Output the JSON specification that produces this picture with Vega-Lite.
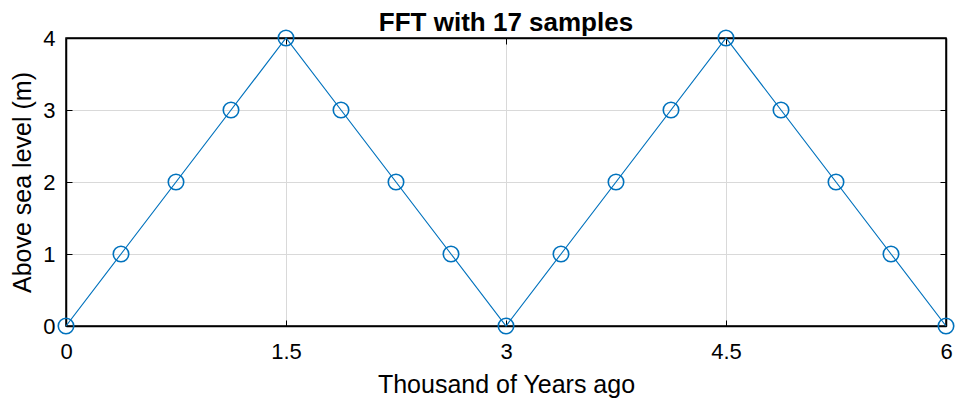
{
  "$schema": "https://vega.github.io/schema/vega-lite/v6.json",
  "width": 880,
  "height": 288,
  "autosize": {"type": "none"},
  "padding": {"left": 66, "top": 38, "right": 19, "bottom": 78},
  "background": "white",
  "title": {"text": "FFT with 17 samples", "font": "Liberation Sans", "fontSize": 26, "fontWeight": "bold", "color": "black", "offset": -9, "anchor": "middle"},
  "config": {
    "view": {"stroke": "black", "strokeWidth": 1.5},
    "axis": {"labelFont": "Liberation Sans", "titleFont": "Liberation Sans", "labelFontSize": 22, "titleFontSize": 25, "titleFontWeight": "normal", "labelColor": "black", "titleColor": "black", "domainColor": "black", "tickColor": "black", "gridColor": "#d9d9d9", "gridWidth": 1}
  },
  "data": {"values": [
    {"x": 0, "y": 0}, {"x": 0.375, "y": 1}, {"x": 0.75, "y": 2}, {"x": 1.125, "y": 3},
    {"x": 1.5, "y": 4}, {"x": 1.875, "y": 3}, {"x": 2.25, "y": 2}, {"x": 2.625, "y": 1},
    {"x": 3, "y": 0}, {"x": 3.375, "y": 1}, {"x": 3.75, "y": 2}, {"x": 4.125, "y": 3},
    {"x": 4.5, "y": 4}, {"x": 4.875, "y": 3}, {"x": 5.25, "y": 2}, {"x": 5.625, "y": 1},
    {"x": 6, "y": 0}
  ]},
  "layer": [
    {"mark": {"type": "line", "color": "#0072BD", "strokeWidth": 1.2},
      "encoding": {
        "x": {"field": "x", "type": "quantitative", "scale": {"domain": [0, 6], "nice": false, "zero": false},
          "axis": {"orient": "bottom", "values": [0, 1.5, 3, 4.5, 6], "format": ".3~g", "title": "Thousand of Years ago", "tickSize": -6, "labelPadding": 21, "titlePadding": 10, "labelFlush": false, "domainWidth": 1.5}},
        "y": {"field": "y", "type": "quantitative", "scale": {"domain": [0, 4], "nice": false},
          "axis": {"orient": "left", "values": [0, 1, 2, 3, 4], "format": "d", "title": "Above sea level (m)", "tickSize": -6, "labelPadding": 17, "titlePadding": 7, "labelFlush": false, "domainWidth": 1.5}}
      }},
    {"mark": {"type": "point", "shape": "circle", "filled": false, "color": "#0072BD", "strokeWidth": 1.6, "size": 240, "opacity": 1},
      "encoding": {
        "x": {"field": "x", "type": "quantitative", "axis": null},
        "y": {"field": "y", "type": "quantitative", "axis": null}
      }},
    {"mark": {"type": "point", "opacity": 0},
      "encoding": {
        "x": {"field": "x", "type": "quantitative", "axis": {"orient": "top", "values": [0, 1.5, 3, 4.5, 6], "labels": false, "title": null, "grid": false, "tickSize": -6, "domainWidth": 1.5}},
        "y": {"field": "y", "type": "quantitative", "axis": {"orient": "right", "values": [0, 1, 2, 3, 4], "labels": false, "title": null, "grid": false, "tickSize": -6, "domainWidth": 1.5}}
      }}
  ],
  "resolve": {"axis": {"x": "independent", "y": "independent"}}
}
